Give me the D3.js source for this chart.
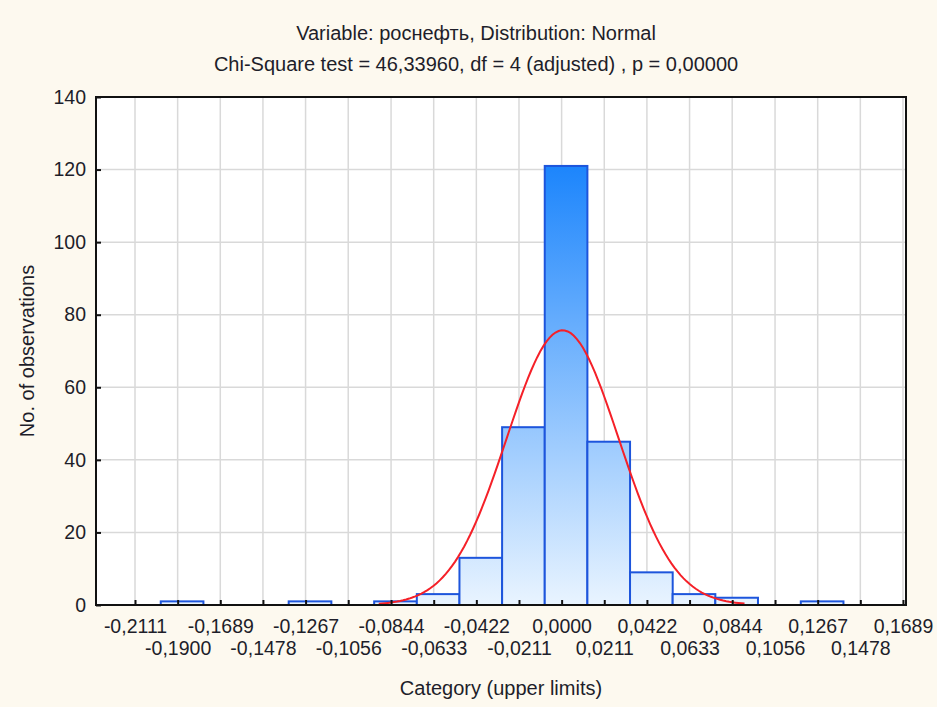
<!DOCTYPE html>
<html>
<head>
<meta charset="utf-8">
<script src="https://cdn.jsdelivr.net/npm/d3@7"></script>
<style>
  html, body { margin: 0; padding: 0; background: #fdf9ef; }
  svg { display: block; font-family: Arial, "Liberation Sans", sans-serif; }
</style>
</head>
<body>
<svg id="chart" width="937" height="707"></svg>
<script>
// Histogram classes (tick values) and observed counts
const categories = [-0.2111, -0.1900, -0.1689, -0.1478, -0.1267, -0.1056, -0.0844, -0.0633, -0.0422,
                    -0.0211, 0.0000, 0.0211, 0.0422, 0.0633, 0.0844, 0.1056, 0.1267, 0.1478, 0.1689];
const counts = [0, 1, 0, 0, 1, 0, 1, 3, 13, 49, 121, 45, 9, 3, 2, 0, 1, 0, 0];
const yTicks = [0, 20, 40, 60, 80, 100, 120, 140];

// Fitted normal distribution parameters
const fitMean = 0.0005;
const fitSd = 0.0277;
const binWidth = 0.02111;
const binOffset = 0.0022;
const curveRange = [-0.0905, 0.0905];

const titleLines = [
  "Variable: роснефть, Distribution: Normal",
  "Chi-Square test = 46,33960, df = 4 (adjusted) , p = 0,00000"
];
const xTitle = "Category (upper limits)";
const yTitle = "No. of observations";

const plot = { left: 96, right: 906, top: 97, bottom: 605 };
const textColor = "#1e1e2a";
const tickFont = 19.5;
const titleFont = 20;

const svg = d3.select("#chart");

const locale = d3.formatLocale({ decimal: ",", thousands: " ", grouping: [3], currency: ["", ""], minus: "-" });
const fmt = locale.format(".4f");

const x = d3.scaleLinear().domain([-0.2304, 0.1704]).range([plot.left, plot.right]);
const y = d3.scaleLinear().domain([0, 140]).range([plot.bottom, plot.top]);

// plot background
svg.append("rect")
  .attr("x", plot.left).attr("y", plot.top)
  .attr("width", plot.right - plot.left).attr("height", plot.bottom - plot.top)
  .attr("fill", "#ffffff");

// gridlines
const grid = svg.append("g").attr("stroke", "#d9d9d9").attr("stroke-width", 1.5);
grid.selectAll("line.v").data(categories).join("line")
  .attr("class", "v")
  .attr("x1", d => x(d)).attr("x2", d => x(d))
  .attr("y1", plot.top).attr("y2", plot.bottom);
grid.selectAll("line.h").data(yTicks.filter(d => d > 0 && d < 140)).join("line")
  .attr("class", "h")
  .attr("x1", plot.left).attr("x2", plot.right)
  .attr("y1", d => y(d)).attr("y2", d => y(d));

// bar gradient, shared across the plot height
const defs = svg.append("defs");
const grad = defs.append("linearGradient")
  .attr("id", "barFill")
  .attr("gradientUnits", "userSpaceOnUse")
  .attr("x1", 0).attr("x2", 0)
  .attr("y1", y(d3.max(counts))).attr("y2", y(0));
grad.append("stop").attr("offset", 0).attr("stop-color", "#1c85fc");
grad.append("stop").attr("offset", 1).attr("stop-color", "#e9f4ff");

// bars
const bars = categories.map((c, i) => ({ c, n: counts[i] })).filter(d => d.n > 0);
svg.append("g").selectAll("rect").data(bars).join("rect")
  .attr("x", d => x(d.c - binWidth / 2 + binOffset))
  .attr("width", d => x(d.c + binWidth / 2 + binOffset) - x(d.c - binWidth / 2 + binOffset))
  .attr("y", d => y(d.n))
  .attr("height", d => y(0) - y(d.n))
  .attr("fill", "url(#barFill)")
  .attr("stroke", "#1d55dc")
  .attr("stroke-width", 2);

// fitted normal curve (expected counts per class)
const total = d3.sum(counts);
const expected = v => total * binWidth / (fitSd * Math.sqrt(2 * Math.PI)) *
  Math.exp(-0.5 * Math.pow((v - fitMean) / fitSd, 2));
const curvePts = d3.range(0, 121).map(k => {
  const v = curveRange[0] + (curveRange[1] - curveRange[0]) * k / 120;
  return [v, expected(v)];
});
svg.append("path")
  .datum(curvePts)
  .attr("fill", "none")
  .attr("stroke", "#f52028")
  .attr("stroke-width", 2)
  .attr("d", d3.line().x(d => x(d[0])).y(d => y(d[1])));

// axes
const xAxis = d3.axisBottom(x).tickValues(categories).tickFormat(fmt)
  .tickSizeInner(-5).tickSizeOuter(0).tickPadding(14);
const gx = svg.append("g").attr("transform", `translate(0,${plot.bottom})`).call(xAxis);
gx.select(".domain").remove();
gx.selectAll(".tick line").attr("stroke", "#111").attr("stroke-width", 2);
gx.selectAll(".tick text")
  .attr("font-size", tickFont).attr("fill", textColor).attr("font-family", "Arial, 'Liberation Sans', sans-serif")
  .attr("y", (d, i) => i % 2 === 0 ? 14 : 36);

const yAxis = d3.axisLeft(y).tickValues(yTicks).tickSizeInner(-5).tickSizeOuter(0).tickPadding(10);
const gy = svg.append("g").attr("transform", `translate(${plot.left},0)`).call(yAxis);
gy.select(".domain").remove();
gy.selectAll(".tick line").attr("stroke", "#111").attr("stroke-width", 2);
gy.selectAll(".tick text")
  .attr("font-size", tickFont).attr("fill", textColor).attr("font-family", "Arial, 'Liberation Sans', sans-serif");

// plot frame
svg.append("rect")
  .attr("x", plot.left).attr("y", plot.top)
  .attr("width", plot.right - plot.left).attr("height", plot.bottom - plot.top)
  .attr("fill", "none").attr("stroke", "#111").attr("stroke-width", 2);

// titles
svg.append("g").selectAll("text").data(titleLines).join("text")
  .attr("x", 476).attr("y", (d, i) => 33 + i * 31)
  .attr("text-anchor", "middle").attr("dominant-baseline", "central")
  .attr("font-size", titleFont).attr("fill", textColor)
  .text(d => d);

svg.append("text")
  .attr("x", (plot.left + plot.right) / 2).attr("y", 688)
  .attr("text-anchor", "middle").attr("dominant-baseline", "central")
  .attr("font-size", titleFont).attr("fill", textColor)
  .text(xTitle);

svg.append("text")
  .attr("transform", `translate(27,${(plot.top + plot.bottom) / 2}) rotate(-90)`)
  .attr("text-anchor", "middle").attr("dominant-baseline", "central")
  .attr("font-size", titleFont).attr("fill", textColor)
  .text(yTitle);
</script>
</body>
</html>
